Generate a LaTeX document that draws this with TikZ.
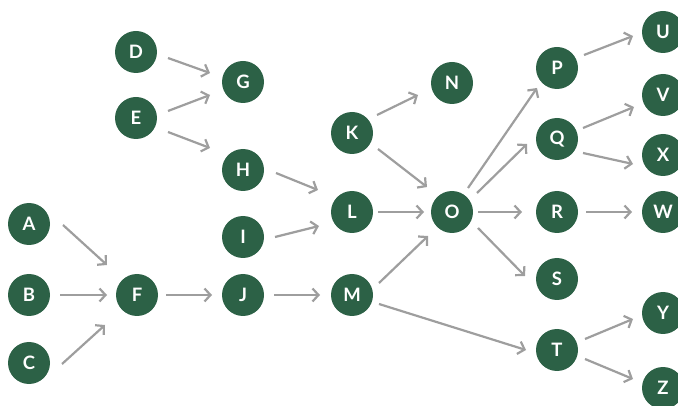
\documentclass[tikz,border=0pt]{standalone}
\usepackage{fontspec}
\setsansfont{Lato}
\usepackage{xcolor}
\usepackage{tikz}
\usetikzlibrary{arrows.meta}
\definecolor{nodegreen}{HTML}{2C6146}
\definecolor{edgegray}{HTML}{9E9E9E}

\begin{document}
\begin{tikzpicture}[x=1pt, y=-1pt,
    every node/.style={font=\sffamily\bfseries\fontsize{18.5}{18.5}\selectfont},
    vtx/.style={circle, fill=nodegreen, text=white, minimum size=42pt, inner sep=0pt},
    arr/.style={-{Straight Barb[length=6pt, width=13pt, line width=2.2pt]}, edgegray, line width=2.2pt}]
  \useasboundingbox (0,0) rectangle (678,406);
  \clip (0,0) rectangle (678,406);
  % column 1
  \node[vtx] (A) at (29,224) {A};
  \node[vtx] (B) at (29,295) {B};
  \node[vtx] (C) at (29,363) {C};
  % column 2
  \node[vtx] (D) at (136,52) {D};
  \node[vtx] (E) at (136,118) {E};
  \node[vtx] (F) at (137,295) {F};
  % column 3
  \node[vtx] (G) at (243,82) {G};
  \node[vtx] (H) at (243,170) {H};
  \node[vtx] (I) at (243,237) {I};
  \node[vtx] (J) at (243,295) {J};
  % column 4
  \node[vtx] (K) at (352,133) {K};
  \node[vtx] (L) at (352,212) {L};
  \node[vtx] (M) at (352,295) {M};
  % column 5
  \node[vtx] (N) at (452,83) {N};
  \node[vtx] (O) at (452,212) {O};
  % column 6
  \node[vtx] (P) at (557,68) {P};
  \node[vtx] (Q) at (557,139) {Q};
  \node[vtx] (R) at (557,212) {R};
  \node[vtx] (S) at (557,279) {S};
  \node[vtx] (T) at (557,350) {T};
  % column 7
  \node[vtx] (U) at (663,32) {U};
  \node[vtx] (V) at (663,95) {V};
  \node[vtx] (X) at (663,155) {X};
  \node[vtx] (W) at (663,212) {W};
  \node[vtx] (Y) at (663,313) {Y};
  \node[vtx] (Z) at (663,388) {Z};
  % edges
  \draw[arr] ([shift={(34,1)}]A.center) -- ([shift={(-30,-30)}]F.center);
  \draw[arr] ([shift={(31,0)}]B.center) -- ([shift={(-30,0)}]F.center);
  \draw[arr] ([shift={(33,1)}]C.center) -- ([shift={(-32,30)}]F.center);
  \draw[arr] ([shift={(32,6)}]D.center) -- ([shift={(-33,-9)}]G.center);
  \draw[arr] ([shift={(32,-7)}]E.center) -- ([shift={(-33,13)}]G.center);
  \draw[arr] ([shift={(32,14)}]E.center) -- ([shift={(-33,-22)}]H.center);
  \draw[arr] ([shift={(29,0)}]F.center) -- ([shift={(-31,0)}]J.center);
  \draw[arr] ([shift={(33,3)}]H.center) -- ([shift={(-34,-22)}]L.center);
  \draw[arr] ([shift={(32,0)}]I.center) -- ([shift={(-33,14)}]L.center);
  \draw[arr] ([shift={(31,0)}]J.center) -- ([shift={(-32,0)}]M.center);
  \draw[arr] ([shift={(25,-18)}]K.center) -- ([shift={(-34,12)}]N.center);
  \draw[arr] ([shift={(26,16)}]K.center) -- ([shift={(-25,-25)}]O.center);
  \draw[arr] ([shift={(26,0)}]L.center) -- ([shift={(-28,0)}]O.center);
  \draw[arr] ([shift={(27,-12)}]M.center) -- ([shift={(-24,24)}]O.center);
  \draw[arr] ([shift={(27,9)}]M.center) -- ([shift={(-31,0)}]T.center);
  \draw[arr] ([shift={(16,-24)}]O.center) -- ([shift={(-20,20)}]P.center);
  \draw[arr] ([shift={(25,-19)}]O.center) -- ([shift={(-30,5)}]Q.center);
  \draw[arr] ([shift={(26,0)}]O.center) -- ([shift={(-35,0)}]R.center);
  \draw[arr] ([shift={(26,16)}]O.center) -- ([shift={(-32,-3)}]S.center);
  \draw[arr] ([shift={(27,-13)}]P.center) -- ([shift={(-30,4)}]U.center);
  \draw[arr] ([shift={(26,-11)}]Q.center) -- ([shift={(-29,12)}]V.center);
  \draw[arr] ([shift={(26,14)}]Q.center) -- ([shift={(-30,9)}]X.center);
  \draw[arr] ([shift={(29,0)}]R.center) -- ([shift={(-31,0)}]W.center);
  \draw[arr] ([shift={(28,-11)}]T.center) -- ([shift={(-30,6)}]Y.center);
  \draw[arr] ([shift={(28,9)}]T.center) -- ([shift={(-30,-9)}]Z.center);
\end{tikzpicture}
\end{document}
